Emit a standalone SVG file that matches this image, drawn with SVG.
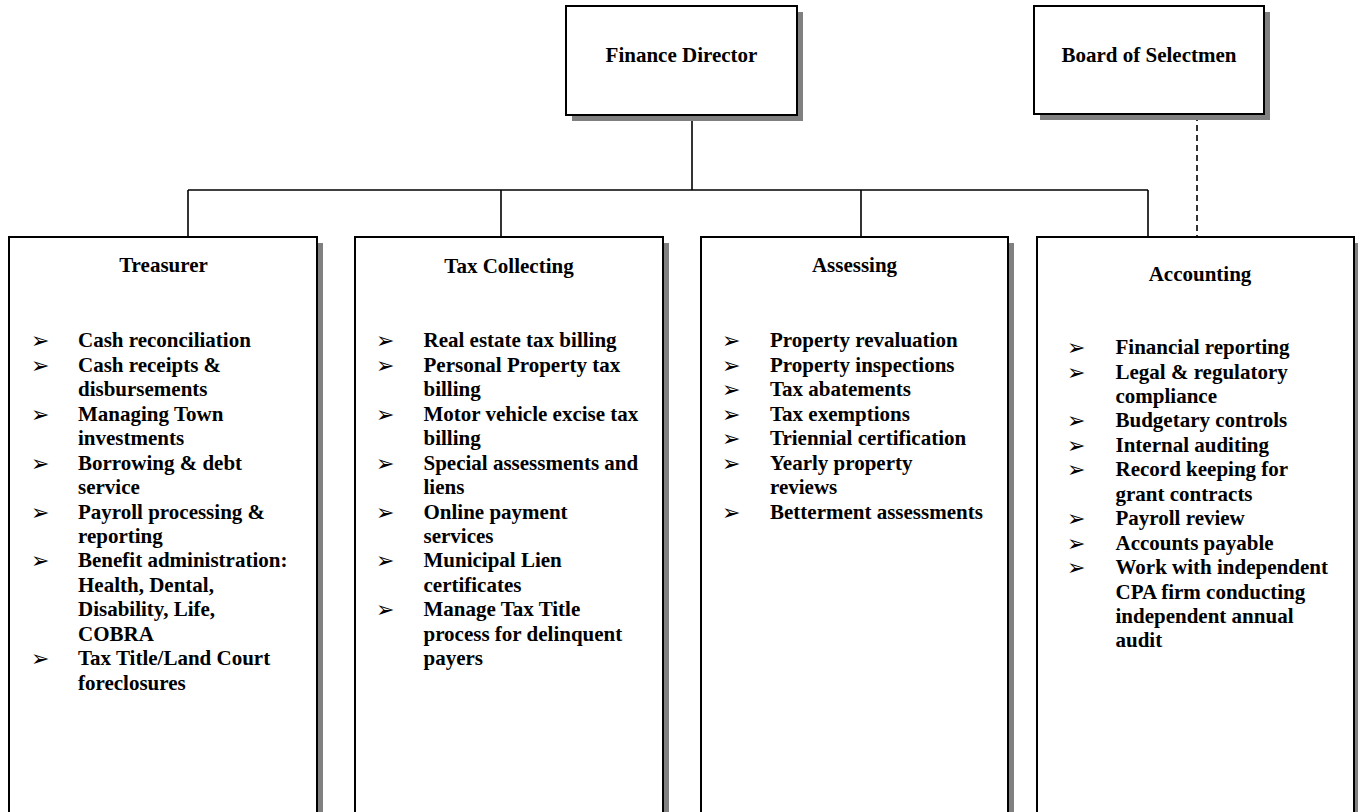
<svg xmlns="http://www.w3.org/2000/svg" width="1358" height="812" viewBox="0 0 1358 812">
<style>
.bg{fill:#ffffff}
.sh{fill:#808080}
.box{fill:#ffffff;stroke:#000000;stroke-width:2}
.t{font-family:"Liberation Serif","Times New Roman",serif;font-weight:bold;font-size:21px;fill:#000000}
.c{text-anchor:middle}
.b{font-family:"DejaVu Sans",sans-serif;font-size:22px;fill:#000000}
.ln{stroke:#000000;stroke-width:1.6;fill:none}
.dash{stroke:#000000;stroke-width:1.6;fill:none;stroke-dasharray:6 4}
</style>
<rect class="bg" x="0" y="0" width="1358" height="812"/>
<g id="connectors">
<line class="ln" x1="692" y1="115" x2="692" y2="190"/>
<line class="ln" x1="188" y1="190" x2="1148" y2="190"/>
<line class="ln" x1="188" y1="190" x2="188" y2="237"/>
<line class="ln" x1="501" y1="190" x2="501" y2="237"/>
<line class="ln" x1="861" y1="190" x2="861" y2="237"/>
<line class="ln" x1="1148" y1="190" x2="1148" y2="237"/>
<line class="dash" x1="1197" y1="115" x2="1197" y2="237"/>
</g>
<g id="finance-director">
<rect class="sh" x="572" y="12" width="231" height="109"/>
<rect class="box" x="566" y="6" width="231" height="109"/>
<text class="t c" x="681.5" y="62">Finance Director</text>
</g>
<g id="board-of-selectmen">
<rect class="sh" x="1040" y="12" width="230" height="108"/>
<rect class="box" x="1034" y="6" width="230" height="108"/>
<text class="t c" x="1149" y="62">Board of Selectmen</text>
</g>
<g id="treasurer">
<rect class="sh" x="15" y="243" width="308" height="600"/>
<rect class="box" x="9" y="237" width="308" height="600"/>
<text class="t c" x="163.5" y="272">Treasurer</text>
<text class="b"><tspan x="31" y="348">➢</tspan><tspan x="31" y="372.8">➢</tspan><tspan x="31" y="421.7">➢</tspan><tspan x="31" y="470.6">➢</tspan><tspan x="31" y="519.5">➢</tspan><tspan x="31" y="568.4">➢</tspan><tspan x="31" y="666.2">➢</tspan></text>
<text class="t"><tspan x="78" y="347.3">Cash reconciliation</tspan><tspan x="78" y="371.8">Cash receipts &amp;</tspan><tspan x="78" y="396.2">disbursements</tspan><tspan x="78" y="420.7">Managing Town</tspan><tspan x="78" y="445.1">investments</tspan><tspan x="78" y="469.6">Borrowing &amp; debt</tspan><tspan x="78" y="494">service</tspan><tspan x="78" y="518.5">Payroll processing &amp;</tspan><tspan x="78" y="543">reporting</tspan><tspan x="78" y="567.4">Benefit administration:</tspan><tspan x="78" y="591.8">Health, Dental,</tspan><tspan x="78" y="616.3">Disability, Life,</tspan><tspan x="78" y="640.7">COBRA</tspan><tspan x="78" y="665.2">Tax Title/Land Court</tspan><tspan x="78" y="689.6">foreclosures</tspan></text>
</g>
<g id="tax-collecting">
<rect class="sh" x="361" y="243" width="308" height="600"/>
<rect class="box" x="355" y="237" width="308" height="600"/>
<text class="t c" x="509" y="272.5">Tax Collecting</text>
<text class="b"><tspan x="376" y="348">➢</tspan><tspan x="376" y="372.8">➢</tspan><tspan x="376" y="421.7">➢</tspan><tspan x="376" y="470.6">➢</tspan><tspan x="376" y="519.5">➢</tspan><tspan x="376" y="568.4">➢</tspan><tspan x="376" y="617.3">➢</tspan></text>
<text class="t"><tspan x="423.5" y="347.3">Real estate tax billing</tspan><tspan x="423.5" y="371.8">Personal Property tax</tspan><tspan x="423.5" y="396.2">billing</tspan><tspan x="423.5" y="420.7">Motor vehicle excise tax</tspan><tspan x="423.5" y="445.1">billing</tspan><tspan x="423.5" y="469.6">Special assessments and</tspan><tspan x="423.5" y="494">liens</tspan><tspan x="423.5" y="518.5">Online payment</tspan><tspan x="423.5" y="543">services</tspan><tspan x="423.5" y="567.4">Municipal Lien</tspan><tspan x="423.5" y="591.8">certificates</tspan><tspan x="423.5" y="616.3">Manage Tax Title</tspan><tspan x="423.5" y="640.7">process for delinquent</tspan><tspan x="423.5" y="665.2">payers</tspan></text>
</g>
<g id="assessing">
<rect class="sh" x="707" y="243" width="307" height="600"/>
<rect class="box" x="701" y="237" width="307" height="600"/>
<text class="t c" x="854.5" y="272">Assessing</text>
<text class="b"><tspan x="722" y="348">➢</tspan><tspan x="722" y="372.8">➢</tspan><tspan x="722" y="397.2">➢</tspan><tspan x="722" y="421.7">➢</tspan><tspan x="722" y="446.1">➢</tspan><tspan x="722" y="470.6">➢</tspan><tspan x="722" y="519.5">➢</tspan></text>
<text class="t"><tspan x="770" y="347.3">Property revaluation</tspan><tspan x="770" y="371.8">Property inspections</tspan><tspan x="770" y="396.2">Tax abatements</tspan><tspan x="770" y="420.7">Tax exemptions</tspan><tspan x="770" y="445.1">Triennial certification</tspan><tspan x="770" y="469.6">Yearly property</tspan><tspan x="770" y="494">reviews</tspan><tspan x="770" y="518.5">Betterment assessments</tspan></text>
</g>
<g id="accounting">
<rect class="sh" x="1043" y="243" width="317" height="600"/>
<rect class="box" x="1037" y="237" width="317" height="600"/>
<text class="t c" x="1200" y="281">Accounting</text>
<text class="b"><tspan x="1067" y="354.7">➢</tspan><tspan x="1067" y="379.5">➢</tspan><tspan x="1067" y="428.4">➢</tspan><tspan x="1067" y="452.8">➢</tspan><tspan x="1067" y="477.3">➢</tspan><tspan x="1067" y="526.2">➢</tspan><tspan x="1067" y="550.6">➢</tspan><tspan x="1067" y="575.1">➢</tspan></text>
<text class="t"><tspan x="1115.5" y="354">Financial reporting</tspan><tspan x="1115.5" y="378.5">Legal &amp; regulatory</tspan><tspan x="1115.5" y="402.9">compliance</tspan><tspan x="1115.5" y="427.4">Budgetary controls</tspan><tspan x="1115.5" y="451.8">Internal auditing</tspan><tspan x="1115.5" y="476.3">Record keeping for</tspan><tspan x="1115.5" y="500.7">grant contracts</tspan><tspan x="1115.5" y="525.2">Payroll review</tspan><tspan x="1115.5" y="549.6">Accounts payable</tspan><tspan x="1115.5" y="574.1">Work with independent</tspan><tspan x="1115.5" y="598.5">CPA firm conducting</tspan><tspan x="1115.5" y="623">independent annual</tspan><tspan x="1115.5" y="647.4">audit</tspan></text>
</g>
</svg>
